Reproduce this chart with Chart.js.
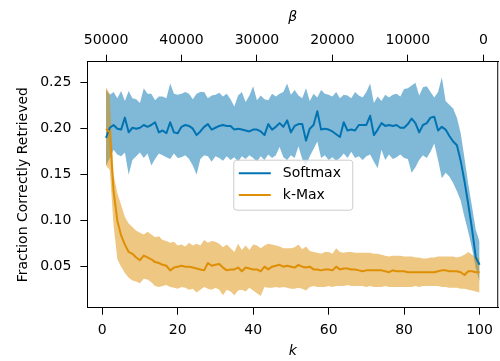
<!DOCTYPE html>
<html>
<head>
<meta charset="utf-8">
<script src="https://cdn.jsdelivr.net/npm/chart.js@4/dist/chart.umd.min.js"></script>
<style>
  html, body { margin: 0; padding: 0; background: #fff; }
  #wrap { width: 500px; height: 361px; }
</style>
</head>
<body>
<div id="wrap"><canvas id="chart" width="500" height="361"></canvas></div>
<script>
// k = 1..100
const K_VALUES = Array.from({ length: 100 }, (_, i) => i + 1);

const SOFTMAX_MEAN = [
  0.190, 0.201, 0.204, 0.200, 0.199, 0.212, 0.196, 0.201, 0.200, 0.201,
  0.204, 0.202, 0.204, 0.207, 0.196, 0.198, 0.195, 0.207, 0.196, 0.195,
  0.202, 0.204, 0.203, 0.200, 0.193, 0.197, 0.202, 0.205, 0.199, 0.201,
  0.203, 0.204, 0.203, 0.203, 0.199, 0.200, 0.199, 0.198, 0.197, 0.199,
  0.199, 0.197, 0.193, 0.205, 0.199, 0.202, 0.206, 0.202, 0.209, 0.196,
  0.203, 0.205, 0.205, 0.187, 0.200, 0.204, 0.219, 0.199, 0.200, 0.199,
  0.197, 0.194, 0.191, 0.207, 0.198, 0.199, 0.198, 0.204, 0.204, 0.204,
  0.214, 0.193, 0.199, 0.206, 0.203, 0.204, 0.203, 0.204, 0.201, 0.201,
  0.205, 0.211, 0.206, 0.196, 0.204, 0.206, 0.212, 0.213, 0.198, 0.202,
  0.199, 0.192, 0.186, 0.182, 0.165, 0.143, 0.118, 0.091, 0.060, 0.052,
];
const SOFTMAX_UPPER = [
  0.242, 0.237, 0.240, 0.233, 0.241, 0.230, 0.241, 0.233, 0.232, 0.228,
  0.244, 0.238, 0.238, 0.231, 0.235, 0.235, 0.233, 0.249, 0.238, 0.237,
  0.238, 0.240, 0.238, 0.232, 0.238, 0.240, 0.240, 0.233, 0.236, 0.237,
  0.239, 0.235, 0.238, 0.232, 0.224, 0.236, 0.240, 0.229, 0.236, 0.246,
  0.231, 0.236, 0.232, 0.231, 0.238, 0.235, 0.238, 0.240, 0.249, 0.237,
  0.242, 0.236, 0.233, 0.244, 0.230, 0.238, 0.234, 0.242, 0.238, 0.237,
  0.235, 0.240, 0.233, 0.237, 0.236, 0.233, 0.240, 0.236, 0.234, 0.240,
  0.249, 0.228, 0.235, 0.230, 0.237, 0.234, 0.237, 0.238, 0.235, 0.243,
  0.244, 0.247, 0.250, 0.236, 0.245, 0.246, 0.240, 0.234, 0.240, 0.256,
  0.230, 0.226, 0.222, 0.212, 0.195, 0.168, 0.140, 0.115, 0.090, 0.077,
];
const SOFTMAX_LOWER = [
  0.160, 0.168, 0.177, 0.172, 0.170, 0.174, 0.150, 0.166, 0.170, 0.174,
  0.168, 0.173, 0.160, 0.167, 0.173, 0.171, 0.169, 0.167, 0.173, 0.168,
  0.169, 0.171, 0.167, 0.160, 0.150, 0.167, 0.171, 0.170, 0.164, 0.170,
  0.168, 0.165, 0.170, 0.166, 0.169, 0.164, 0.170, 0.167, 0.171, 0.168,
  0.164, 0.170, 0.166, 0.172, 0.168, 0.171, 0.180, 0.169, 0.166, 0.171,
  0.168, 0.181, 0.167, 0.160, 0.170, 0.178, 0.186, 0.168, 0.171, 0.166,
  0.169, 0.165, 0.168, 0.173, 0.168, 0.175, 0.168, 0.170, 0.166, 0.170,
  0.172, 0.164, 0.157, 0.177, 0.166, 0.172, 0.167, 0.169, 0.172, 0.168,
  0.167, 0.152, 0.158, 0.166, 0.171, 0.168, 0.175, 0.184, 0.166, 0.146,
  0.152, 0.148, 0.141, 0.132, 0.122, 0.104, 0.088, 0.070, 0.048, 0.034,
];

const KMAX_MEAN = [
  0.200, 0.196, 0.132, 0.100, 0.084, 0.074, 0.066, 0.064, 0.060, 0.057,
  0.062, 0.060, 0.058, 0.055, 0.054, 0.052, 0.051, 0.046, 0.049, 0.050,
  0.051, 0.050, 0.050, 0.049, 0.048, 0.047, 0.046, 0.054, 0.051, 0.052,
  0.053, 0.049, 0.046, 0.047, 0.047, 0.049, 0.045, 0.049, 0.048, 0.047,
  0.047, 0.045, 0.050, 0.047, 0.050, 0.051, 0.052, 0.050, 0.051, 0.050,
  0.049, 0.052, 0.050, 0.049, 0.050, 0.047, 0.047, 0.046, 0.047, 0.047,
  0.046, 0.050, 0.047, 0.048, 0.048, 0.047, 0.047, 0.046, 0.045, 0.046,
  0.046, 0.046, 0.046, 0.046, 0.045, 0.044, 0.046, 0.045, 0.045, 0.045,
  0.044, 0.044, 0.044, 0.044, 0.044, 0.044, 0.044, 0.044, 0.045, 0.046,
  0.046, 0.045, 0.045, 0.045, 0.044, 0.041, 0.045, 0.045, 0.044, 0.044,
];
const KMAX_UPPER = [
  0.245, 0.238, 0.150, 0.130, 0.117, 0.104, 0.097, 0.093, 0.089, 0.087,
  0.085, 0.088, 0.085, 0.082, 0.083, 0.079, 0.078, 0.076, 0.077, 0.073,
  0.074, 0.072, 0.076, 0.073, 0.075, 0.073, 0.079, 0.076, 0.078, 0.077,
  0.075, 0.071, 0.074, 0.070, 0.066, 0.075, 0.068, 0.073, 0.068, 0.074,
  0.073, 0.070, 0.073, 0.075, 0.074, 0.073, 0.072, 0.070, 0.070, 0.070,
  0.071, 0.074, 0.069, 0.072, 0.067, 0.066, 0.065, 0.064, 0.066, 0.066,
  0.064, 0.070, 0.066, 0.065, 0.066, 0.066, 0.065, 0.065, 0.065, 0.065,
  0.065, 0.064, 0.064, 0.063, 0.062, 0.061, 0.062, 0.062, 0.062, 0.061,
  0.061, 0.061, 0.060, 0.060, 0.059, 0.059, 0.060, 0.060, 0.061, 0.061,
  0.061, 0.061, 0.061, 0.060, 0.061, 0.063, 0.066, 0.063, 0.060, 0.060,
];
const KMAX_LOWER = [
  0.160, 0.155, 0.095, 0.058, 0.050, 0.043, 0.038, 0.035, 0.034, 0.032,
  0.037, 0.036, 0.033, 0.029, 0.028, 0.029, 0.030, 0.028, 0.027, 0.026,
  0.028, 0.027, 0.025, 0.026, 0.022, 0.025, 0.028, 0.026, 0.025, 0.027,
  0.025, 0.019, 0.025, 0.023, 0.019, 0.024, 0.025, 0.023, 0.027, 0.024,
  0.021, 0.018, 0.028, 0.027, 0.027, 0.028, 0.027, 0.028, 0.027, 0.026,
  0.026, 0.027, 0.026, 0.024, 0.028, 0.029, 0.028, 0.028, 0.028, 0.029,
  0.028, 0.029, 0.029, 0.029, 0.030, 0.029, 0.029, 0.029, 0.029, 0.028,
  0.029, 0.028, 0.028, 0.028, 0.029, 0.028, 0.028, 0.028, 0.028, 0.028,
  0.028, 0.028, 0.029, 0.028, 0.029, 0.029, 0.029, 0.029, 0.029, 0.028,
  0.028, 0.027, 0.027, 0.027, 0.026, 0.026, 0.025, 0.024, 0.023, 0.022,
];

const X_TICKS = [0, 20, 40, 60, 80, 100];
const Y_TICKS = [0.05, 0.10, 0.15, 0.20, 0.25];
const BETA_TICKS = [50000, 40000, 30000, 20000, 10000, 0];

// beta = (K_AT_BETA_ZERO - k) * BETA_PER_K
const BETA_PER_K = 500;
const K_AT_BETA_ZERO = 101;

const X_MIN = -3.95;
const X_MAX = 104.95;
const Y_MIN = 0.0054;
const Y_MAX = 0.2728;

const BLUE = '#0173b2';
const ORANGE = '#de8f05';
const BLUE_FILL = 'rgba(1,115,178,0.5)';
const ORANGE_FILL = 'rgba(222,143,5,0.5)';
const AXIS_COLOR = '#000';
const TEXT_COLOR = '#000';
const FONT = { family: 'DejaVu Sans', size: 14 };

Chart.defaults.font.family = FONT.family;
Chart.defaults.font.size = FONT.size;

function points(values) {
  return values.map((y, i) => ({ x: K_VALUES[i], y }));
}

function lineSet(label, values, color, order) {
  return {
    label,
    data: points(values),
    borderColor: color,
    borderWidth: 2,
    borderJoinStyle: 'round',
    pointRadius: 0,
    tension: 0,
    fill: false,
    order,
  };
}

function bandSet(label, values, fillColor, fill, order) {
  return {
    label,
    data: points(values),
    borderColor: 'transparent',
    borderWidth: 0,
    backgroundColor: fillColor,
    pointRadius: 0,
    tension: 0,
    fill,
    order,
  };
}

function axisCommon() {
  return {
    grid: {
      drawOnChartArea: false, drawTicks: true, tickLength: 7, tickColor: AXIS_COLOR, tickWidth: 1,
    },
    border: { display: true, color: AXIS_COLOR, width: 1 },
  };
}

const frame = {
  id: 'frame',
  afterDraw(chart) {
    const { ctx, chartArea: a } = chart;
    ctx.save();
    ctx.strokeStyle = AXIS_COLOR;
    ctx.lineWidth = 1;
    ctx.beginPath();
    ctx.moveTo(a.right - 0.5, a.top);
    ctx.lineTo(a.right - 0.5, a.bottom);
    ctx.stroke();
    ctx.restore();
  },
};

const boxLegend = {
  id: 'boxLegend',
  afterDraw(chart) {
    const { ctx, chartArea: a } = chart;
    const items = [['Softmax', BLUE], ['k-Max', ORANGE]];
    const w = 119;
    const h = 50;
    const left = (a.left + a.right) / 2 - w / 2;
    const top = (a.top + a.bottom) / 2 - h / 2;
    ctx.save();
    ctx.beginPath();
    ctx.roundRect(left + 0.5, top + 0.5, w, h, 3);
    ctx.fillStyle = 'rgba(255,255,255,0.8)';
    ctx.fill();
    ctx.strokeStyle = '#cccccc';
    ctx.lineWidth = 1;
    ctx.stroke();
    ctx.font = `${FONT.size}px ${FONT.family}`;
    ctx.textBaseline = 'middle';
    ctx.fillStyle = TEXT_COLOR;
    items.forEach(([label, color], i) => {
      const y = top + 13.5 + i * 21.7;
      ctx.beginPath();
      ctx.strokeStyle = color;
      ctx.lineWidth = 2;
      ctx.moveTo(left + 5.5, y);
      ctx.lineTo(left + 37.5, y);
      ctx.stroke();
      ctx.fillText(label, left + 49.5, y);
    });
    ctx.restore();
  },
};

new Chart(document.getElementById('chart'), {
  type: 'line',
  data: {
    datasets: [
      lineSet('Softmax', SOFTMAX_MEAN, BLUE, 0.5),
      lineSet('k-Max', KMAX_MEAN, ORANGE, 0),
      bandSet('Softmax upper', SOFTMAX_UPPER, BLUE_FILL, '+1', 2),
      bandSet('Softmax lower', SOFTMAX_LOWER, BLUE_FILL, false, 2),
      bandSet('k-Max upper', KMAX_UPPER, ORANGE_FILL, '+1', 1),
      bandSet('k-Max lower', KMAX_LOWER, ORANGE_FILL, false, 1),
    ],
  },
  options: {
    responsive: false,
    animation: false,
    devicePixelRatio: 1,
    layout: { padding: { left: 0, right: 0.6, top: 0, bottom: 0 }, autoPadding: false },
    plugins: { legend: { display: false }, tooltip: { enabled: false } },
    scales: {
      x: {
        ...axisCommon(),
        type: 'linear',
        position: 'bottom',
        min: X_MIN,
        max: X_MAX,
        afterBuildTicks: (s) => { s.ticks = X_TICKS.map((value) => ({ value })); },
        afterFit: (s) => { s.height = 53.3; },
        ticks: {
          color: TEXT_COLOR, padding: 7, maxRotation: 0, autoSkip: false, callback: (v) => String(v),
        },
        title: {
          display: true, text: 'k', color: TEXT_COLOR, font: { style: 'italic' }, padding: { top: 0, bottom: 1 },
        },
      },
      x2: {
        ...axisCommon(),
        type: 'linear',
        position: 'top',
        reverse: true,
        min: (K_AT_BETA_ZERO - X_MAX) * BETA_PER_K,
        max: (K_AT_BETA_ZERO - X_MIN) * BETA_PER_K,
        afterBuildTicks: (s) => { s.ticks = BETA_TICKS.map((value) => ({ value })); },
        afterFit: (s) => { s.height = 61.7; },
        ticks: {
          color: TEXT_COLOR, padding: 6, maxRotation: 0, autoSkip: false, callback: (v) => String(v),
        },
        title: {
          display: true, text: 'β', color: TEXT_COLOR, font: { style: 'italic' }, padding: { top: 8.6, bottom: 0 },
        },
      },
      y: {
        ...axisCommon(),
        type: 'linear',
        position: 'left',
        min: Y_MIN,
        max: Y_MAX,
        afterBuildTicks: (s) => { s.ticks = Y_TICKS.map((value) => ({ value })); },
        afterFit: (s) => { s.width = 87.35; },
        ticks: { color: TEXT_COLOR, padding: 9, autoSkip: false, callback: (v) => v.toFixed(2) },
        title: {
          display: true, text: 'Fraction Correctly Retrieved', color: TEXT_COLOR, padding: { top: 15, bottom: 0 },
        },
      },
    },
  },
  plugins: [frame, boxLegend],
});
</script>
</body>
</html>
